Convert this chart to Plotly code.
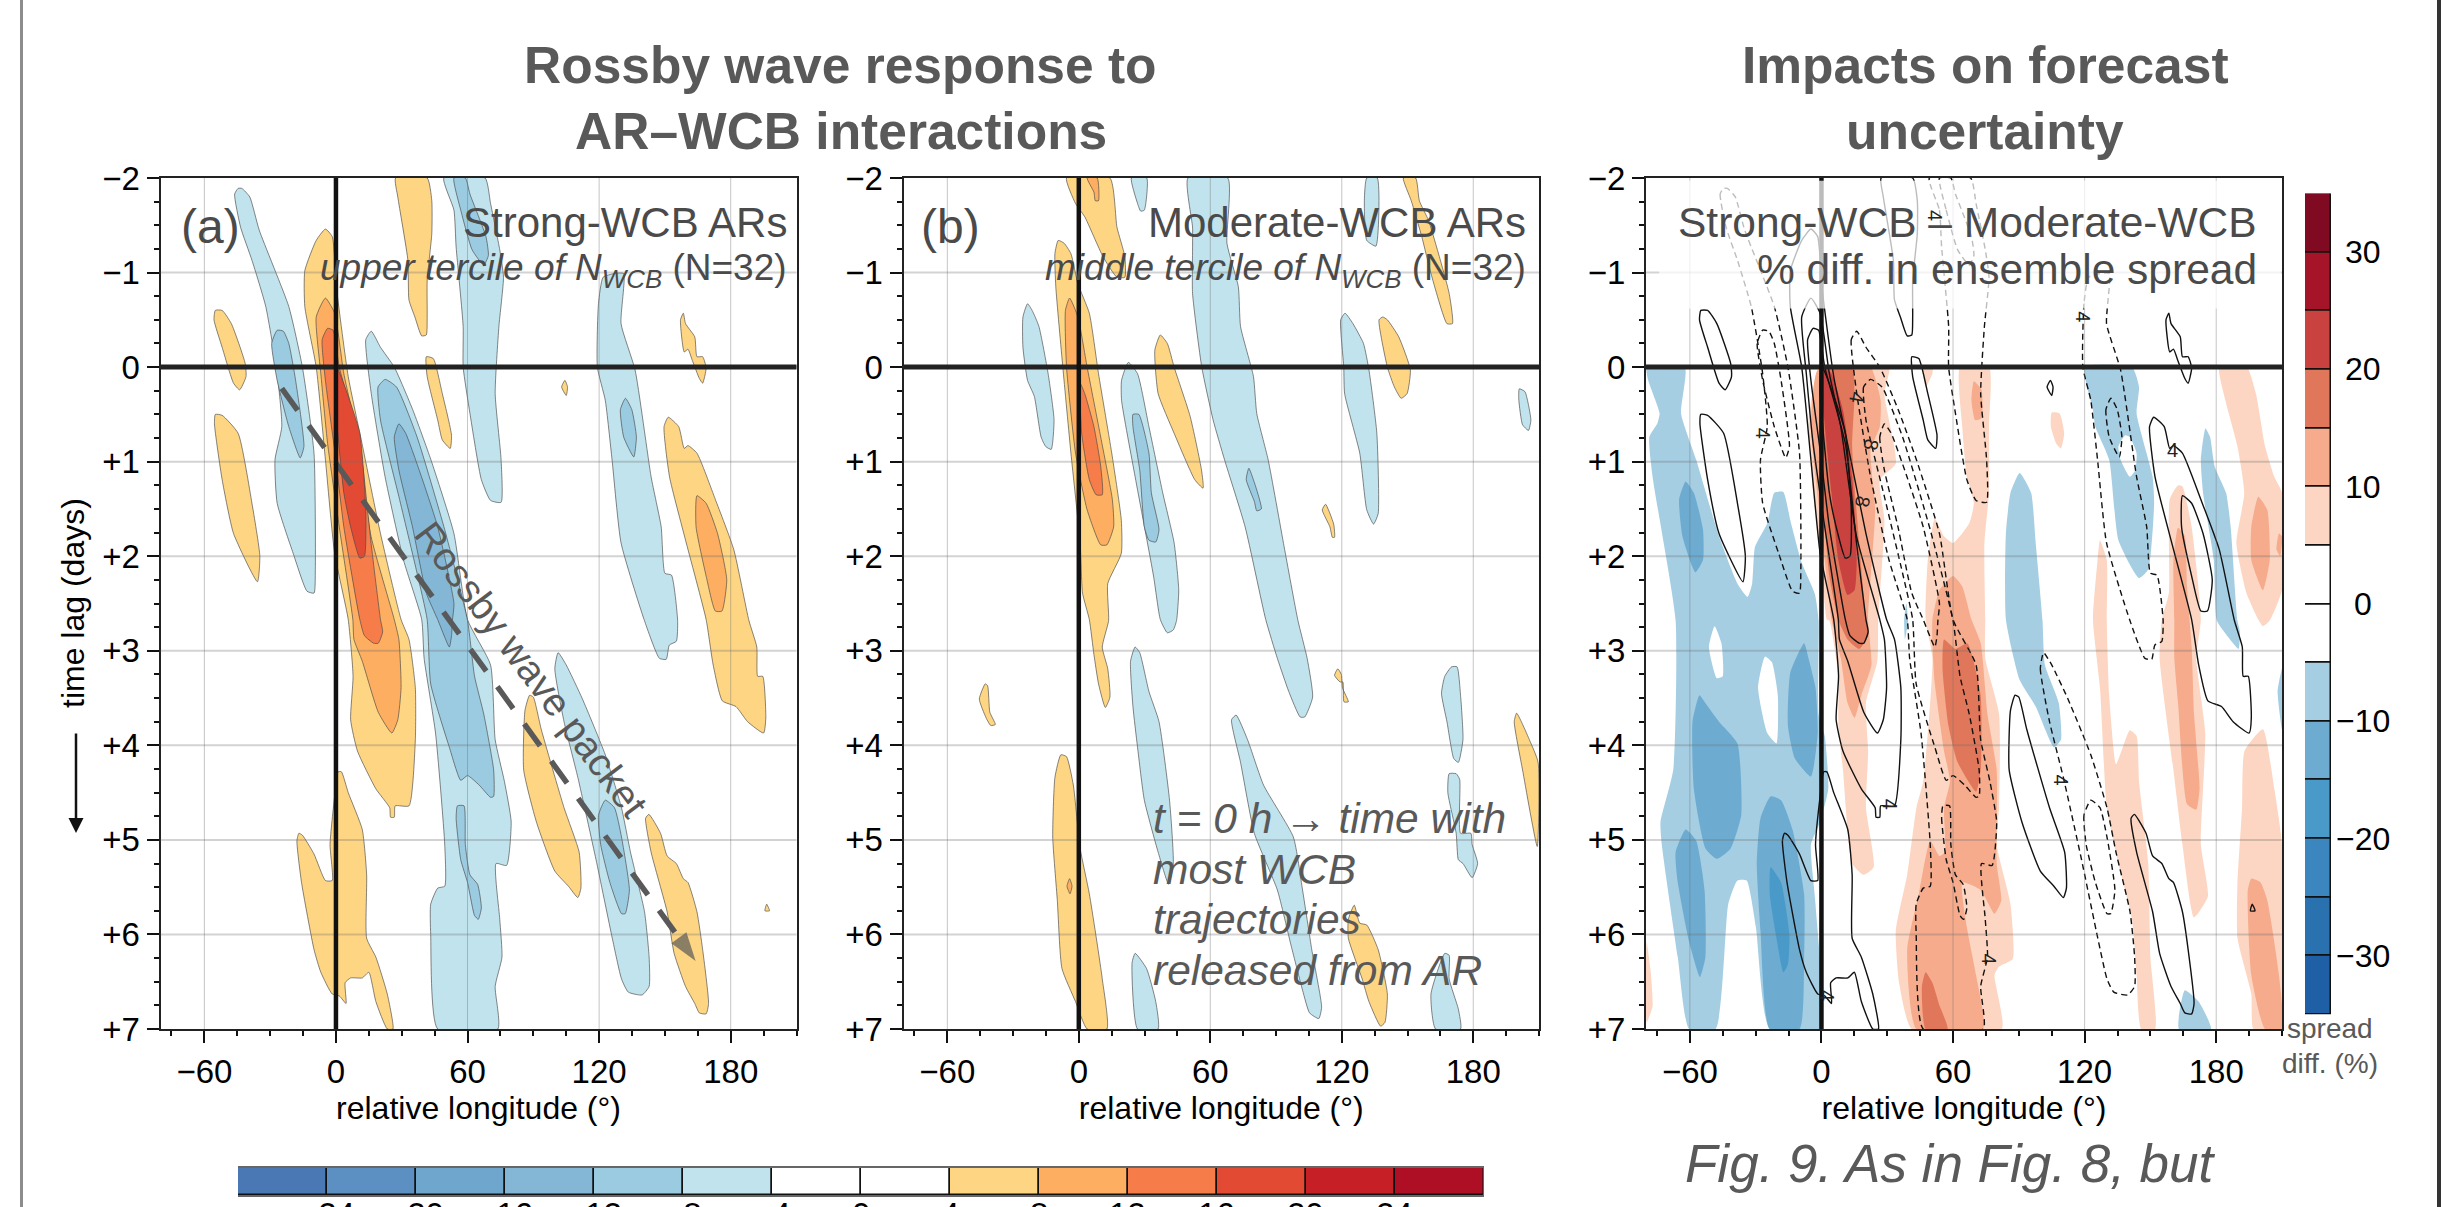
import plotly.graph_objects as go

W, H = 2441, 1207

# ---------- axes values ----------
LON_TICKS = [-60, 0, 60, 120, 180]
LON_MINOR = [-75, -45, -30, -15, 15, 30, 45, 75, 90, 105, 135, 150, 165, 195, 210]
LAG_TICKS = [-2, -1, 0, 1, 2, 3, 4, 5, 6, 7]
LAG_LABELS = ["−2", "−1", "0", "+1", "+2", "+3", "+4", "+5", "+6", "+7"]
CBAR_A_EDGES = [-28, -24, -20, -16, -12, -8, -4, 0, 4, 8, 12, 16, 20, 24, 28]
CBAR_A_TICKS = [-24, -20, -16, -12, -8, -4, 0, 4, 8, 12, 16, 20, 24]
CBAR_A_COLORS = ["#4a78b5", "#5d90c2", "#6fa6cd", "#84b7d6", "#9bcbe1", "#c1e3ed", "#ffffff",
                 "#ffffff", "#fed683", "#fdae60", "#f67d4a", "#e34a33", "#c62026", "#ae0f25"]
CBAR_C_EDGES = [-35, -30, -25, -20, -15, -10, -5, 0, 5, 10, 15, 20, 25, 30, 35]
CBAR_C_TICKS = [-30, -20, -10, 0, 10, 20, 30]
CBAR_C_COLORS = ["#1f5fa6", "#2a71b0", "#3b86be", "#4a9ac9", "#6dacd0", "#a5cee3", "#ffffff",
                 "#ffffff", "#fcd6c2", "#f5ab8c", "#e1775a", "#c9423f", "#a51429", "#7f0a22"]

# ---------- panel (a): contour regions as (lon, lag) ----------
A_NEG1 = [
 [(-44.6,-1.89),(-46.2,-1.83),(-43.5,-1.48),(-38.3,-1.13),(-32,-.64),(-26.8,.07),(-24.7,.63),(-27.8,.98),(-26.8,1.44),(-19.5,1.97),(-13.2,2.37),(-10,2.39),(-9.4,2.14),(-10,.91),(-15.3,0),(-21.5,-.64),(-35,-1.45),(-39.3,-1.8),(-42.9,-1.89)],
 [(49.2,-2),(53.8,-1.66),(54.8,-1.27),(58,-.43),(58,0),(61.1,.49),(66.3,1.19),(70.5,1.41),(75.3,1.43),(75.3,.98),(72.6,.28),(74.3,-.43),(76.4,-.95),(74.7,-1.24),(70.5,-1.73),(68,-2)],
 [(16.1,-.38),(13.6,-.29),(16.1,.28),(22.4,1.16),(30.8,2.04),(39.1,2.67),(40.2,3.08),(45.4,3.87),(49.6,5.05),(49.6,5.49),(46.4,5.51),(43.2,5.68),(43.2,6),(46.4,7),(73.8,7),(72.6,6.55),(75.7,6.24),(74.7,5.84),(73,5.25),(77.8,5.27),(79.9,4.81),(76.8,4.38),(72.6,3.94),(70.5,3.15),(60,2.67),(53.8,1.76),(43.3,.98),(35,.45),(26.6,0),(20.3,-.21)],
 [(121.8,-.95),(119.7,-.67),(119.2,0),(122.8,.35),(125.9,.98),(130,1.86),(140.5,2.67),(147.5,3.08),(150.6,3.09),(152,2.94),(155.2,2.9),(155.8,2.68),(153,2.2),(150,2.18),(148.3,1.69),(143.7,1.16),(136.4,.03),(130,-.46),(131.2,-.99),(127,-.99)],
 [(101.3,3.02),(99.8,3.19),(104,3.75),(110.3,4.34),(118.6,5.21),(126,6.04),(130.2,6.47),(133.3,6.61),(139.6,6.64),(142.8,6.55),(142.8,6.24),(140.7,5.76),(134.3,5.13),(130.2,4.66),(122.8,4.1),(112.4,3.51),(105,3.15)],
]
A_NEG2 = [
 [(-26.8,-.39),(-29.3,-.25),(-26.8,.14),(-21.5,.63),(-16.3,.96),(-14.6,.84),(-18.4,.14),(-21.5,-.25),(-24,-.38)],
 [(53.8,-2),(56.9,-1.66),(62.1,-1.24),(67.4,-1.08),(69.5,-1.18),(68.4,-1.38),(61.1,-1.83),(59,-2)],
 [(22.4,.13),(19.2,.21),(20.3,.56),(28.7,1.37),(37,2.18),(41.6,2.67),(43.2,3.35),(51.7,4.02),(56.9,4.37),(60,4.32),(65.3,4.42),(70.5,4.55),(71.9,4.54),(71.9,4.26),(67.4,3.67),(63.2,3.27),(60,2.68),(49.6,1.72),(37,.74),(27.6,.21)],
 [(55.4,4.64),(54.8,4.77),(56.9,5.21),(60,5.45),(63.2,5.8),(64.9,5.84),(66.3,5.72),(64.6,5.47),(61.1,5.37),(59,5.05),(58.4,4.64)],
 [(132,.33),(129.7,.45),(131.2,.74),(135.8,.95),(137,.74),(134.9,.45)],
 [(122.8,4.58),(119.7,4.74),(120.7,5.05),(124.9,5.45),(130.2,5.78),(131.9,5.78),(133.8,5.53),(130.2,4.97),(127,4.66)],
]
A_NEG3 = [
 [(28.7,.6),(26.6,.74),(28.7,1.09),(34.9,1.69),(41.2,2.39),(46.4,2.67),(51.7,2.96),(52.7,2.84),(53.1,2.68),(53.8,2.5),(46.4,1.69),(39,1.16),(31.8,.7)],
]
A_POS1 = [
 [(-55,-.6),(-55.6,-.5),(-51.9,-.21),(-46.7,.17),(-43.9,.24),(-41,.1),(-41.4,-.04),(-47.7,-.46),(-51.9,-.6)],
 [(-55,.5),(-55.4,.6),(-51.9,1.19),(-46.7,1.76),(-35.8,2.27),(-34.7,2),(-38.3,1.44),(-44.6,.7),(-51.9,.51)],
 [(-4.8,-1.46),(-9,-1.34),(-14.2,-1.02),(-14.2,-.64),(-9,0),(-4.8,.98),(-.6,1.97),(5.6,2.67),(7.8,3.27),(6.7,3.73),(9.8,4.06),(18.2,4.46),(24.5,4.66),(24.9,4.76),(26.6,4.76),(27,4.64),(33.3,4.64),(36.2,3.94),(36.2,3.39),(33.3,2.88),(29.7,2.67),(20.3,1.76),(11.9,.81),(5.6,.1),(.4,-.81),(-1.7,-1.38)],
 [(27.2,-2),(28.2,-1.8),(32.8,-1.13),(33.3,-.71),(36,-.53),(39.1,-.33),(41.2,-.34),(41.6,-.53),(41.6,-.92),(43.7,-1.41),(43.7,-1.76),(41.6,-2)],
 [(41.2,-.11),(41.6,.1),(46.4,.56),(48.5,.77),(52.1,.86),(52.7,.72),(48.5,.28),(44.4,-.09)],
 [(151.5,.53),(149.6,.63),(152.1,1.16),(159.4,1.83),(168.8,2.67),(172,3.15),(176.2,3.53),(182.4,3.59),(187.7,3.75),(195,3.87),(196,3.71),(194.6,3.27),(192.3,3.27),(191.9,2.96),(188.3,2.68),(181.4,1.93),(173,1.4),(164.6,.91),(160.5,.83),(158.8,.86),(156.3,.63)],
 [(158.4,-.57),(157.1,-.5),(158.8,-.16),(160.5,-.19),(162.5,-.07),(165.7,.12),(167.2,.17),(168.8,.01),(167.2,-.11),(164.6,-.11),(163.6,-.32),(159.4,-.46)],
 [(104.4,.14),(102.9,.21),(105,.3),(105.6,.21)],
 [(88.3,3.47),(86.2,3.63),(85.6,4.26),(91.4,4.81),(99.8,5.33),(106,5.49),(110.3,5.61),(111.7,5.51),(110.9,5.13),(104,4.66),(93.6,3.83),(90,3.49)],
 [(142.7,4.73),(141.2,4.77),(143.7,5.13),(151,5.76),(154.2,6.2),(159.4,6.55),(163.6,6.73),(165.7,6.83),(168.8,6.84),(169.9,6.73),(167.2,6.16),(164.6,5.76),(160.5,5.45),(158.4,5.41),(155.2,5.25),(151,5.17),(148,4.93)],
 [(196.4,5.68),(195.6,5.75),(197.7,5.75)],
 [(1,4.28),(-.6,4.54),(-2.7,5.05),(-1.7,5.43),(-4.8,5.43),(-10,5.15),(-15.3,4.95),(-16.9,4.93),(-17.8,5.01),(-15.7,5.45),(-10,6.16),(-6.9,6.4),(-1.7,6.63),(1.5,6.65),(4.6,6.73),(4.2,6.51),(6.7,6.46),(12,6.46),(15,6.4),(18.2,6.71),(23.4,7),(26,7),(23.4,6.63),(18.2,6.24),(14,6.04),(14,5.37),(12,4.89),(5.6,4.5),(2.5,4.28)],
]
A_POS2 = [
 [(-4.8,-.73),(-9,-.53),(-6.9,.07),(-3.8,.81),(1.5,1.69),(7.7,2.67),(8.2,2.88),(12,3.11),(19.3,3.65),(25.5,3.87),(28.2,3.73),(29.7,3.39),(28.7,2.88),(26.6,2.67),(16,1.79),(8.8,.63),(3.6,.07),(-.6,-.57)],
 [(164.6,1.36),(164.2,1.69),(168.8,2.21),(173,2.58),(176,2.58),(178.2,2.25),(174,1.76),(168.8,1.44)],
]
A_POS3 = [
 [(-3.8,-.41),(-6.3,-.29),(-4.8,.14),(-.6,.88),(3.6,1.69),(10.9,2.67),(13,2.84),(17.2,2.92),(19.3,2.92),(21.3,2.8),(20.3,2.67),(16,1.86),(10.9,.81),(1.5,0),(-1.3,-.39)],
]
A_POS4 = [
 [(-.2,0),(-.6,.28),(3.6,1.33),(6.7,1.69),(10.9,2.02),(13,2),(13.6,1.51),(10.9,.7),(4.6,.24),(1,.03)],
]

# ---------- panel (b) ----------
B_NEG1 = [
 [(-23.4,-.67),(-25.5,-.53),(-25.5,-.21),(-23.4,.14),(-20.3,.31),(-17.2,.74),(-15.1,.84),(-12.6,.87),(-11.3,.56),(-14,.07),(-18.2,-.43),(-21.3,-.6)],
 [(24,-2),(26.8,-1.73),(28.2,-1.65),(29.9,-1.66),(31,-2)],
 [(49.8,-2),(51.9,-1.48),(51.9,-1.24),(51.9,-.78),(56.1,0),(61.3,.56),(66.5,.98),(75.9,1.69),(85.3,2.67),(90.6,3.08),(95.8,3.43),(101,3.7),(103.1,3.7),(106.7,3.49),(104.2,3.08),(100,2.68),(93.7,1.9),(86.4,.98),(81.2,.49),(79.7,.1),(73.8,-.43),(72.8,-.85),(67.6,-1.31),(68,-2)],
 [(131.4,-2),(130.3,-1.76),(131.4,-1.34),(135.6,-1.28),(136.2,-2)],
 [(121.5,-.57),(119.5,-.5),(120.9,0),(121.3,.28),(128.2,.91),(131.4,1.51),(134.5,1.66),(136.6,1.55),(136,.7),(132.4,.03),(129.9,-.25),(125.1,-.46)],
 [(22.6,-.05),(19.5,.14),(19.5,.35),(25.7,1.16),(34.1,2.21),(37.2,2.67),(40.4,2.81),(43.1,2.78),(44.6,2.68),(45.6,2.36),(43.5,1.86),(38.3,1.33),(32,.63),(26.8,.07)],
 [(201,.23),(200.8,.35),(202.5,.61),(205.2,.67),(206.3,.56),(203.6,.26)],
 [(25.7,2.96),(23.6,3.11),(24.7,3.59),(26.8,4.02),(29.9,4.58),(36.2,5.13),(41,5.47),(43.1,5.25),(41.4,4.58),(36.6,3.75),(32,3.43),(27.8,3.02)],
 [(71.8,3.68),(69.7,3.73),(73.8,4.18),(80.1,4.93),(90.6,5.53),(96.9,6.12),(102.1,6.59),(105.3,6.83),(109.5,6.89),(110.8,6.77),(106.3,6.16),(102.1,5.53),(97.9,4.97),(84.3,4.42),(77,3.94)],
 [(170.1,3.17),(167,3.27),(165.5,3.45),(168,3.75),(171.1,4.14),(173.2,4.18),(175.3,3.94),(174.2,3.47),(172.6,3.17)],
 [(169,4.3),(168.4,4.5),(172.2,4.93),(173.2,5.21),(175.3,5.25),(179.5,5.4),(182,5.25),(179.5,5.05),(178.9,4.93),(174.2,4.93),(173.8,4.36),(172.2,4.3)],
 [(25.7,6.2),(24.3,6.3),(26.8,7),(36.2,7),(35.1,6.71),(30.9,6.36)],
 [(167,6.2),(160.7,6.63),(162.8,7),(174.2,7),(173.2,6.79),(169,6.47),(169,6.22)],
]
B_NEG2 = [
 [(77.6,1.07),(76.4,1.19),(80.1,1.42),(81.2,1.52),(83.3,1.5),(81.2,1.3)],
 [(24.7,.5),(24.7,.63),(27.8,1.09),(29.9,1.69),(32,1.83),(35.1,1.85),(36.6,1.72),(33.1,1.33),(32,.91),(27.4,.5)],
]
B_POS1 = [
 [(-5.6,-2),(-1.5,-1.73),(2.7,-1.59),(11,-1.17),(17.4,-.95),(21,-.95),(21,-1.17),(17.4,-1.48),(14.2,-2)],
 [(-9.4,-1.34),(-10.9,-1.2),(-10.5,-.85),(-7.3,0),(-3.6,.91),(.6,1.86),(1.7,2.39),(4.8,2.67),(6.9,3.04),(9,3.35),(12.1,3.6),(14.2,3.49),(13.2,3.19),(10.7,2.96),(13.6,2.68),(13.2,2.29),(19.4,1.97),(19.4,1.62),(15.3,.95),(9,.07),(4.8,-.57),(-.4,-.88),(-3.6,-1.2),(-6.7,-1.31)],
 [(148.1,-2),(151.7,-1.76),(156.5,-1.38),(160.7,-.99),(168,-.46),(170.5,-.46),(169,-.78),(159.6,-1.55),(155.4,-1.76),(153.7,-2)],
 [(138.7,-.53),(137,-.5),(140.8,0),(144,.21),(147.1,.33),(149.8,.28),(151.3,.03),(146,-.32),(140.8,-.5)],
 [(37.2,-.34),(34.7,-.18),(36.2,.28),(43.5,.7),(52.9,1.19),(56.7,1.28),(56,1.09),(50.8,.52),(43.5,0),(40.4,-.25)],
 [(112.6,1.45),(111.1,1.51),(114.6,1.69),(115.7,1.8),(116.7,1.8),(116.3,1.66)],
 [(199.8,3.66),(198.7,3.75),(202.5,4.26),(209.2,5.07),(209.6,4.18),(205.6,3.94)],
 [(-42.7,3.35),(-45.4,3.51),(-42.3,3.71),(-40.2,3.79),(-38.1,3.78),(-40.6,3.65),(-41.6,3.37)],
 [(-8.2,4.1),(-10.9,4.34),(-11.9,4.97),(-9.8,5.64),(-7.7,6.36),(-1.5,6.71),(3.8,7),(12.8,7),(10.7,6.47),(4.8,5.57),(.6,5.09),(-2.5,4.42),(-5.6,4.12)],
 [(118.2,3.19),(116.7,3.26),(119.2,3.33),(120.5,3.33),(121,3.54),(123,3.54),(120.3,3.39),(119.8,3.25)],
 [(125.7,5.69),(123,5.84),(123,6.04),(129.3,6.47),(132.4,6.71),(137.7,6.97),(139.7,6.93),(140.8,6.63),(136.6,6.16),(131.4,5.9),(128.2,5.88)],
]
B_POS2 = [
 [(3.8,-2),(6.9,-1.85),(7.5,-1.76),(9,-1.76),(8.4,-2)],
 [(-4.2,-.73),(-6.1,-.6),(-5.6,0),(-1.5,.91),(3.8,1.51),(10,1.88),(12.8,1.88),(15.9,1.69),(15.3,1.4),(10,.74),(3.8,0),(-.4,-.53)],
 [(-4.2,5.41),(-5.4,5.49),(-4,5.57),(-3.1,5.49)],
]
B_POS3 = [
 [(.6,.17),(1.3,.7),(4.8,1.19),(7.9,1.35),(10.7,1.35),(10,1.05),(6.9,.63),(2.7,.28)],
]

# ---------- panel (c): spread difference shading ----------
C_NEG1 = [
 [(-79.7,0),(-62.3,0),(-64,.49),(-57.1,.98),(-46.7,1.79),(-38.3,2.29),(-33.7,2.43),(-31.6,2.29),(-30.3,1.9),(-24.7,1.65),(-21.5,1.33),(-17.4,1.32),(-14.2,1.62),(-9,2.07),(-3,2.4),(-1.3,2.68),(-1.3,3.67),(1.5,3.9),(3.1,4.46),(-.6,4.81),(-4.8,5.05),(-2.7,5.68),(-1,7),(-23.6,7),(-29.9,5.92),(-34.1,5.43),(-38.3,5.43),(-42.5,5.68),(-48.3,7),(-60.3,7),(-65.5,6.24),(-72.8,5.05),(-73.4,4.81),(-67.6,4.26),(-66.5,2.68),(-77,1.16),(-78.5,.74),(-74.9,.6),(-73.8,.49),(-79,.14)],
 [(90.4,1.12),(86.2,1.33),(84.1,1.76),(84.1,2.67),(90.4,3.31),(97.7,3.59),(106,4.02),(109.2,3.94),(108.2,3.55),(101.9,3.15),(100.8,2.68),(97.7,1.86),(95.6,1.33)],
 [(120,0),(123.8,.45),(124.9,.63),(131.2,.98),(135.4,1.83),(144.8,2.23),(149,2.14),(151.7,1.44),(151,1.16),(143.7,.49),(144.8,.21),(141.6,0)],
 [(175.1,.65),(173,.98),(174,1.33),(178.9,2.04),(180.3,2.68),(185.6,2.86),(190.2,2.98),(190.8,2.8),(189.7,2.68),(186.6,1.69),(184.5,1.33),(179.3,1.05),(177.2,.74)],
 [(210,3.19),(208,3.43),(210,3.83)],
 [(165.7,6.59),(163,7),(177.6,7),(172,6.71)],
 [(38.7,2.5),(37.7,2.67),(38.1,2.88),(39.5,2.68)],
]
C_HOLES = [
 [(-48.7,2.74),(-51.3,2.96),(-47.7,3.29),(-45,3.27),(-45.6,2.92)],
 [(-25.7,3.06),(-28.9,3.39),(-24.7,3.87),(-20.5,3.98),(-19.9,3.47),(-22.6,3.12)],
 [(138.5,.72),(135.4,.84),(136.4,.98),(140.6,1.16),(143.1,1.09),(143.7,.91),(140.6,.74)],
]
C_NEG2 = [
 [(-61.9,1.21),(-64.9,1.4),(-63.4,1.79),(-57.5,2.17),(-54,2.04),(-54,1.72),(-58.2,1.33)],
 [(-55.6,3.47),(-58.8,3.75),(-58.2,4.46),(-52.9,5.09),(-47.7,5.2),(-41.4,5.09),(-36.6,4.74),(-38.3,3.98),(-46.7,3.75),(-53,3.55)],
 [(-7.9,2.92),(-14.2,3.23),(-15.3,3.79),(-12.1,4.14),(-4.8,4.33),(-1.7,3.87),(-2.7,3.39),(-5.9,3.08)],
 [(-61.9,4.89),(-66.5,5.13),(-65.5,5.45),(-60.3,6.08),(-55.4,6.45),(-52.9,6.24),(-53.3,5.53),(-57.1,5.01)],
 [(-23.2,4.54),(-27.8,4.77),(-29.5,5.25),(-27.8,5.96),(-23.6,7),(-10,7),(-7.9,6.24),(-7.9,5.57),(-13.2,4.89),(-18.4,4.58)],
]
C_NEG3 = [
 [(-23.2,5.29),(-23.6,5.57),(-20.5,6.04),(-17.4,6.4),(-15.3,6.32),(-14.6,6),(-18.4,5.45)],
]
C_POS1 = [
 [(.4,0),(30.8,0),(28.7,.28),(33.9,1.02),(26.6,1.19),(28.7,1.62),(25.9,2.67),(25.5,3.11),(20.3,3.55),(21.3,4.06),(20.3,4.66),(23.8,5.29),(19.2,5.37),(14,5.25),(9.8,4.26),(7.7,3.79),(7.7,3.27),(3.6,2.68),(2.5,2.67),(-.6,1.93),(-3.8,1.33),(-5.9,.56),(-1.7,.03)],
 [(46.4,0),(47.5,.21),(50.6,.07),(50.6,0)],
 [(63.2,0),(64.2,.63),(66.3,1.16),(69.5,1.44),(67.4,1.65),(60,1.86),(55.9,1.79),(51.7,1.6),(48.5,2.04),(47.5,2.67),(50.6,3.08),(46.4,4.38),(43.3,4.66),(39.1,5.37),(33.9,5.96),(35.4,6.51),(41.2,7),(82.2,7),(78.9,6.43),(81,6.34),(87.2,6.26),(86.2,5.68),(79.9,5.05),(81,4.66),(81,3.67),(74.7,3.08),(74.7,2.67),(74.3,1.86),(76.4,1.33),(76.4,.63),(76.4,0)],
 [(127,1.83),(125.9,2.04),(123.8,2.67),(127,3.39),(130.1,4.66),(135.4,5.25),(141.6,5.84),(143.7,6.43),(145.8,7),(152.1,7),(150,6.24),(149,5.25),(144.8,4.38),(143.7,3.9),(140.6,3.84),(137.4,4.02),(134.3,4.2),(131.2,3.47),(130.1,2.68),(130.1,2.04)],
 [(162.6,1.25),(158.8,1.4),(158.4,2.39),(155.2,2.67),(154.2,3.08),(160.5,4.26),(164.6,5.05),(169.9,5.82),(176.2,5.6),(173,5.05),(175,3.87),(170.9,3.08),(173,2.67),(168.8,1.69),(164.6,1.26)],
 [(181.4,0),(184.5,.38),(189.7,.84),(192.8,1.33),(189.2,1.86),(193.8,2.39),(199.2,2.67),(201.3,2.74),(204.4,2.68),(210,2.36),(210,1.33),(206.5,1.16),(202.3,.84),(198.1,.28),(193.9,0)],
 [(105,.48),(104.6,.63),(107.1,.81),(109.2,.86),(110.7,.7),(108.6,.49)],
 [(201.3,3.83),(192.9,4.06),(191.8,4.66),(189.7,5.45),(189.7,6.04),(196,6.63),(197,7),(210,7),(210,5.05),(206.5,4.46)],
 [(-79.7,6.08),(-79.7,6.93),(-77,6.76),(-78,6.36)],
]
C_POS2 = [
 [(-1.7,.03),(14,0),(22.4,0),(27,.35),(26.6,.63),(22.4,.88),(24.5,1.51),(21.3,2.67),(22.8,3.15),(18.2,3.47),(15.1,3.71),(11.9,3.55),(8.8,3.08),(4.6,2.67),(1.5,2.04),(-2.7,1.16),(-4.8,.63)],
 [(69.5,.15),(68.4,.35),(70.1,.56),(73,.54),(73,.24)],
 [(60,2.21),(53.8,2.36),(50.6,2.67),(50.6,2.92),(51.7,3.35),(55.9,4.06),(58.6,4.38),(55.9,4.66),(56.3,5.13),(53.8,5.17),(49.6,5.01),(44.4,5.57),(39.1,6.16),(43.3,7),(73.6,7),(70.5,6.43),(66.3,5.92),(64.2,5.45),(72.6,5.53),(78.9,5.78),(82,5.64),(79.9,5.25),(79.9,4.26),(75.7,3.67),(72.6,2.92),(68.4,2.67),(64.2,2.32)],
 [(162.6,1.7),(160.5,2.04),(160.9,2.67),(160.9,3.08),(162.6,3.55),(166.7,4.62),(170.9,4.68),(172.4,4.46),(169.9,3.67),(168.8,2.96),(166.7,2.32),(165.7,1.79)],
 [(199.2,1.37),(196,1.69),(196,2.04),(201.3,2.36),(204.4,2.04),(203.3,1.51)],
 [(208.6,1.76),(207.5,1.93),(209.2,2),(210,1.79)],
 [(196,5.41),(194.4,5.53),(196,6.43),(202.3,7),(210,7),(208.6,6.43),(203.3,5.64),(200.2,5.45)],
]
C_POS3 = [
 [(1.5,0),(-.6,.1),(-.6,.98),(3.6,2.21),(7.7,2.67),(11.9,2.88),(17.2,2.98),(21.3,2.84),(20.3,2.67),(17.2,1.86),(14,.84),(15.1,.28),(14,0)],
 [(66.5,2.92),(61.1,2.98),(55.9,2.88),(55.2,3.19),(57.9,3.79),(62.1,4.18),(70.5,4.49),(72.6,4.26),(72.6,3.47)],
 [(47.5,6.4),(45.8,6.55),(47.5,7),(57.5,7),(53.8,6.75),(50.6,6.51)],
]
C_POS4 = [
 [(1.5,0),(.4,.28),(4.6,1.33),(7.7,2.04),(11.9,2.41),(15.1,2.36),(16.1,2.04),(14,1.16),(9.8,.45),(4.6,.07)],
]

# contour labels of panel (c): lon, lag, text, angle
C_LABELS = [(-26.8,.7,"4",90),(16,.32,"4",100),(22.8,.82,"8",100),(18.6,1.42,"8",100),(119.2,-.53,"4",90),
            (51.7,-1.6,"4",90),(160,.88,"4",0),(31.4,4.62,"4",90),(109.2,4.37,"4",90),(76.2,6.26,"4",90),(2.5,6.65,"4",90)]

# Rossby wave packet arrow
ROSSBY_LON = [-24.7, 164]
ROSSBY_LAG = [0.225, 6.28]

FONT = "Liberation Sans"
GREY = "#595959"
TEXT = "#4a4a4a"
EDGE = "rgba(70,70,70,0.65)"

fig = go.Figure()
panels = [("x", "y", 160.5, 796.5), ("x2", "y2", 903.5, 1539), ("x3", "y3", 1646, 2282)]
PLOT_TOP, PLOT_BOTTOM = 178, 1029


def px(x):
    return x / W


def py(y):
    return 1 - y / H


def closed(poly):
    xs = [p[0] for p in poly] + [poly[0][0]]
    ys = [p[1] for p in poly] + [poly[0][1]]
    return xs, ys


def add_regions(regions, color, xa, ya, outline=True):
    for poly in regions:
        xs, ys = closed(poly)
        fig.add_trace(go.Scatter(x=xs, y=ys, xaxis=xa, yaxis=ya, mode="lines", fill="toself",
                                 fillcolor=color,
                                 line=dict(color=EDGE if outline else color, width=1 if outline else 0,
                                           shape="spline", smoothing=0.5),
                                 hoverinfo="skip", showlegend=False))


def add_contours(regions, xa, ya, dash):
    for poly in regions:
        xs, ys = closed(poly)
        fig.add_trace(go.Scatter(x=xs, y=ys, xaxis=xa, yaxis=ya, mode="lines",
                                 line=dict(color="#111111", width=1.4, dash=dash, shape="spline", smoothing=0.5),
                                 hoverinfo="skip", showlegend=False))


NA = CBAR_A_COLORS
for reg, c in [(A_NEG1, NA[5]), (A_NEG2, NA[4]), (A_NEG3, NA[3]), (A_POS1, NA[8]), (A_POS2, NA[9]), (A_POS3, NA[10]), (A_POS4, NA[11])]:
    add_regions(reg, c, "x", "y")
for reg, c in [(B_NEG1, NA[5]), (B_NEG2, NA[4]), (B_POS1, NA[8]), (B_POS2, NA[9]), (B_POS3, NA[10])]:
    add_regions(reg, c, "x2", "y2")
NC = CBAR_C_COLORS
for reg, c in [(C_NEG1, NC[5]), (C_HOLES, "#ffffff"), (C_NEG2, NC[4]), (C_NEG3, NC[3]), (C_POS1, NC[8]), (C_POS2, NC[9]), (C_POS3, NC[10]), (C_POS4, NC[11])]:
    add_regions(reg, c, "x3", "y3", outline=False)
for reg in (A_POS1, A_POS2, A_POS3, A_POS4):
    add_contours(reg, "x3", "y3", "solid")
for reg in (A_NEG1, A_NEG2, A_NEG3):
    add_contours(reg, "x3", "y3", "6px,4px")

# Rossby arrow
fig.add_trace(go.Scatter(x=ROSSBY_LON, y=ROSSBY_LAG, xaxis="x", yaxis="y", mode="lines+markers",
                         line=dict(color=GREY, width=5.5, dash="27px,19px"),
                         marker=dict(symbol="arrow", angleref="previous", size=[0, 30], color=GREY, line=dict(width=0)),
                         hoverinfo="skip", showlegend=False))

# colour bars
a_mid = [(CBAR_A_EDGES[i] + CBAR_A_EDGES[i + 1]) / 2 for i in range(14)]
fig.add_trace(go.Bar(x=a_mid, y=[1] * 14, width=4, xaxis="x4", yaxis="y4", marker=dict(color=CBAR_A_COLORS, line=dict(color="#111", width=1.5)),
                     hoverinfo="skip", showlegend=False))
c_mid = [(CBAR_C_EDGES[i] + CBAR_C_EDGES[i + 1]) / 2 for i in range(14)]
fig.add_trace(go.Bar(y=c_mid, x=[1] * 14, width=5, orientation="h", xaxis="x5", yaxis="y5", marker=dict(color=CBAR_C_COLORS, line=dict(color="#111", width=1.5)),
                     hoverinfo="skip", showlegend=False))

layout = dict(width=W, height=H, margin=dict(l=0, r=0, t=0, b=0, autoexpand=False), paper_bgcolor="white", plot_bgcolor="white",
              font=dict(family=FONT, color="black"), showlegend=False, bargap=0)
shapes = []
for i, (xa, ya, x0, x1) in enumerate(panels):
    n = "" if i == 0 else str(i + 1)
    layout["xaxis" + n] = dict(domain=[px(x0), px(x1)], range=[-80, 210], anchor=ya, tickvals=LON_TICKS,
                               ticktext=[str(v).replace("-", "−") for v in LON_TICKS], ticks="outside", ticklen=12, tickwidth=2,
                               tickcolor="#111", showline=True, mirror=True, linecolor="#222", linewidth=2, showgrid=False, zeroline=False,
                               tickfont=dict(size=33, family=FONT, color="black"),
                               title=dict(text="relative longitude (°)", font=dict(size=32, family=FONT, color="black"), standoff=5),
                               minor=dict(tickvals=LON_MINOR, ticks="outside", ticklen=5, tickwidth=2, tickcolor="#111", showgrid=False))
    layout["yaxis" + n] = dict(domain=[py(PLOT_BOTTOM), py(PLOT_TOP)], range=[7, -2], anchor=xa, tickvals=LAG_TICKS, ticktext=LAG_LABELS,
                               ticks="outside", ticklen=12, tickwidth=2, tickcolor="#111", showline=True, mirror=True, linecolor="#222", linewidth=2,
                               showgrid=False, zeroline=False, tickfont=dict(size=33, family=FONT, color="black"),
                               minor=dict(dtick=0.25, tick0=0, ticks="outside", ticklen=5, tickwidth=2, tickcolor="#111", showgrid=False))
    xd = xa + " domain"
    yd = ya + " domain"
    for v in LON_TICKS:
        shapes.append(dict(type="line", layer="above", xref=xa, yref=yd, x0=v, x1=v, y0=0, y1=1, line=dict(color="rgba(110,110,110,0.4)", width=1)))
    for v in LAG_TICKS[1:-1]:
        shapes.append(dict(type="line", layer="above", xref=xd, yref=ya, x0=0, x1=1, y0=v, y1=v, line=dict(color="rgba(110,110,110,0.3)", width=2)))
    shapes.append(dict(type="line", layer="above", xref=xd, yref=ya, x0=0, x1=1, y0=0, y1=0, line=dict(color="#222", width=5)))
    shapes.append(dict(type="line", layer="above", xref=xa, yref=yd, x0=0, x1=0, y0=0, y1=1, line=dict(color="#111", width=4.5)))

# veil behind the title texts of panel (c)
shapes.append(dict(type="rect", layer="above", xref="x3", yref="y3", x0=-74, x1=209.5, y0=-1.97, y1=-0.62,
                   fillcolor="rgba(255,255,255,0.72)", line=dict(width=0)))
layout["shapes"] = shapes

layout["xaxis4"] = dict(domain=[px(238), px(1483.6)], range=[-28, 28], anchor="y4", showticklabels=False, ticks="",
                        showline=True, mirror=True, linecolor="#666", linewidth=2, showgrid=False, zeroline=False)
layout["yaxis4"] = dict(domain=[py(1195), py(1168)], range=[0, 1], anchor="x4", showticklabels=False, ticks="", showgrid=False, zeroline=False)
layout["xaxis5"] = dict(domain=[px(2305), px(2331)], range=[0, 1], anchor="y5", showticklabels=False, ticks="", showgrid=False, zeroline=False)
layout["yaxis5"] = dict(domain=[py(1014.5), py(193.5)], range=[-35, 35], anchor="x5", showticklabels=False, ticks="", showgrid=False, zeroline=False)

ann = []


def text(x, y, s, size, color=TEXT, anchor="center", angle=0):
    ann.append(dict(xref="paper", yref="paper", x=px(x), y=py(y), text=s, showarrow=False, xanchor=anchor, yanchor="middle",
                    textangle=angle, font=dict(size=size, family=FONT, color=color)))


text(841, 65, "<b>Rossby wave response to</b>", 51.5, GREY)
text(841, 131, "<b>AR–WCB interactions</b>", 51.5, GREY)
text(1985, 65, "<b>Impacts on forecast</b>", 51.5, GREY)
text(1985, 131, "<b>uncertainty</b>", 51.5, GREY)

text(179, 227, "(a)", 48, TEXT, "left")
text(919, 227, "(b)", 48, TEXT, "left")
text(789, 223, "Strong-WCB ARs", 42, TEXT, "right")
text(789, 270, "<i>upper tercile of N<sub>WCB</sub></i> (N=32)", 37, TEXT, "right")
text(1528, 223, "Moderate-WCB ARs", 42, TEXT, "right")
text(1528, 270, "<i>middle tercile of N<sub>WCB</sub></i> (N=32)", 37, TEXT, "right")
text(2259, 223, "Strong-WCB – Moderate-WCB", 42.5, TEXT, "right")
text(2259, 270, "% diff. in ensemble spread", 42.5, TEXT, "right")

for y, s in [(818, "t = 0 h → time with"), (869, "most WCB"), (919.5, "trajectories"), (970, "released from AR")]:
    text(1151, y, "<i>%s</i>" % s, 42.5, GREY, "left")

text(1950, 1163, "<i>Fig. 9. As in Fig. 8, but</i>", 53, GREY)
text(2330, 1028, "spread", 28, GREY)
text(2330, 1063, "diff. (%)", 28, GREY)
text(73, 603, "time lag (days)", 32, "black", angle=-90)

# y axis arrow
ann.append(dict(xref="paper", yref="paper", x=px(76), y=py(833), ax=0, ay=-101, showarrow=True, arrowhead=2, arrowsize=1.2,
                arrowwidth=2.5, arrowcolor="#111", text=""))
ann.append(dict(xref="x", yref="y", x=89, y=3.2, text="Rossby wave packet", textangle=53, showarrow=False,
                font=dict(size=39, family=FONT, color=GREY)))
for lon, lag, s, a in C_LABELS:
    ann.append(dict(xref="x3", yref="y3", x=lon, y=lag, text=s, textangle=a, showarrow=False,
                    font=dict(size=20, family=FONT, color="#222")))
for v in CBAR_C_TICKS:
    ann.append(dict(xref="paper", yref="y5", x=px(2362.5), y=v, text=str(v).replace("-", "−"), showarrow=False, xanchor="center",
                    font=dict(size=32, family=FONT, color="black")))
# lower colour bar labels run off the bottom of the page, as in the reference
for v in CBAR_A_TICKS:
    ann.append(dict(xref="x4", yref="paper", x=v, y=py(1214), text=str(v).replace("-", "−"), showarrow=False, xanchor="center",
                    yanchor="middle", font=dict(size=33, family=FONT, color="black")))

layout["annotations"] = ann
fig.update_layout(**layout)
# page frame lines
fig.add_shape(type="line", xref="paper", yref="paper", x0=px(21.5), x1=px(21.5), y0=0, y1=1, layer="above", line=dict(color="#8c8c8c", width=3))
fig.add_shape(type="rect", xref="paper", yref="paper", x0=px(2437), x1=1, y0=0, y1=1, layer="above", fillcolor="#333333", line=dict(width=0))

fig.write_html("out.html", config=dict(displayModeBar=False),
               post_script="document.documentElement.style.overflow='hidden';document.body.style.margin='0';document.body.style.overflow='hidden';")
